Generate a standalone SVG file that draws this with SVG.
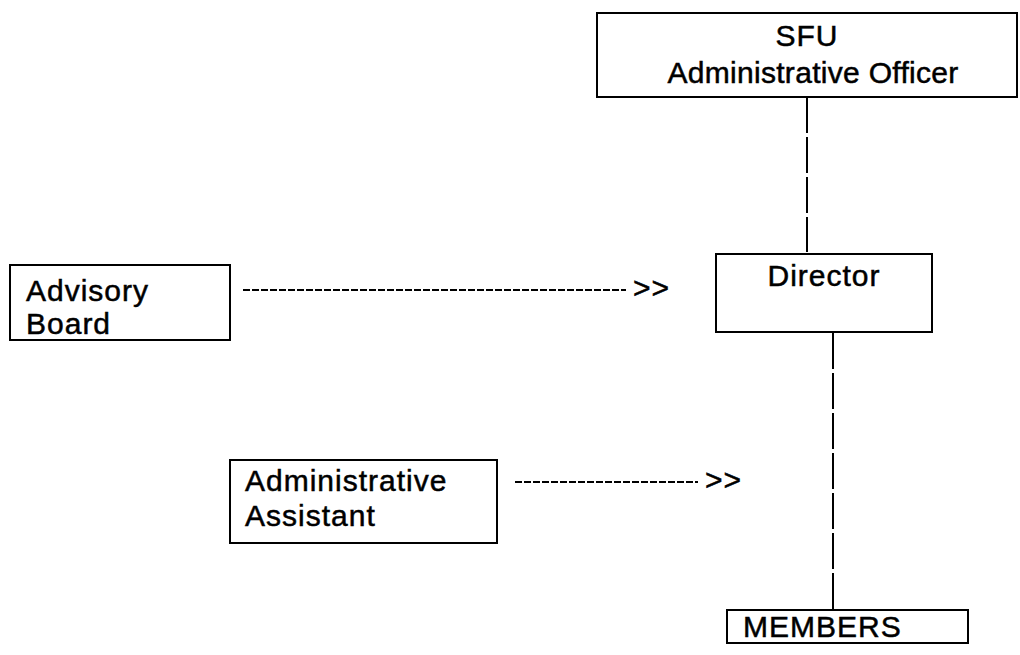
<svg xmlns="http://www.w3.org/2000/svg" width="1020" height="655" viewBox="0 0 1020 655">
<style>
.box{fill:#fff;stroke:#000;stroke-width:2}
.t{font-family:"Liberation Sans",Arial,sans-serif;font-size:30px;fill:#000;stroke:#000;stroke-width:0.5;letter-spacing:1px}
.c{text-anchor:middle}
.v{stroke:#000;stroke-width:2;fill:none;stroke-dasharray:36 4}
.h{stroke:#000;stroke-width:2;fill:none;stroke-dasharray:7 2}
</style>
<rect width="1020" height="655" fill="#fff"/>
<g id="connectors">
<line class="v" x1="807" y1="97" x2="807" y2="252"/>
<line class="v" x1="833" y1="333" x2="833" y2="609"/>
<line class="h" x1="243" y1="290" x2="626" y2="290"/>
<text class="t" x="633" y="298">&gt;&gt;</text>
<line class="h" x1="515" y1="482" x2="698" y2="482"/>
<text class="t" x="705" y="490">&gt;&gt;</text>
</g>
<g id="sfu">
<rect class="box" x="597" y="13" width="420" height="84"/>
<text class="t c" x="807" y="46">SFU</text>
<text class="t c" x="813" y="83" style="letter-spacing:0.3px">Administrative Officer</text>
</g>
<g id="director">
<rect class="box" x="716" y="254" width="216" height="78"/>
<text class="t c" x="824" y="286">Director</text>
</g>
<g id="advisory">
<rect class="box" x="10" y="265" width="220" height="75"/>
<text class="t" x="26" y="301">Advisory</text>
<text class="t" x="26" y="334">Board</text>
</g>
<g id="assistant">
<rect class="box" x="230" y="460" width="267" height="83"/>
<text class="t" x="245" y="491">Administrative</text>
<text class="t" x="245" y="526">Assistant</text>
</g>
<g id="members">
<rect class="box" x="727" y="610" width="241" height="33"/>
<text class="t" x="743" y="637">MEMBERS</text>
</g>
</svg>
